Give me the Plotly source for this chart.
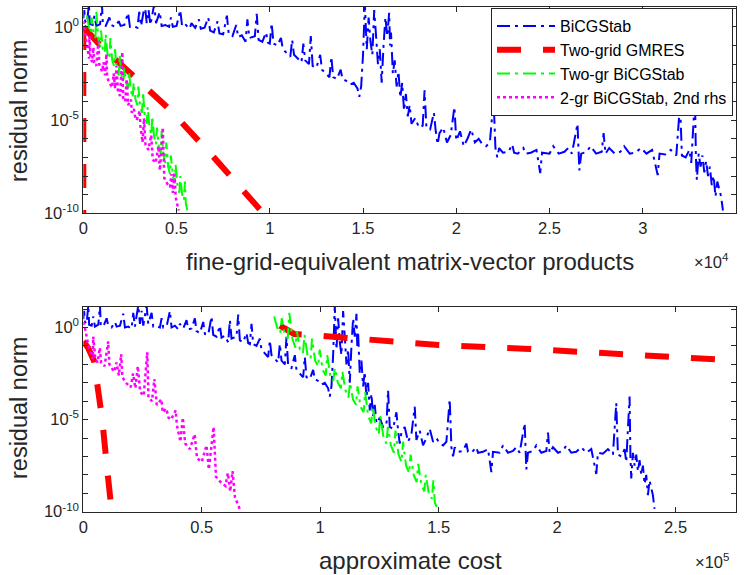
import plotly.graph_objects as go

# ---------------- data ----------------
# BiCGStab: x in units of 1e4 fine-grid matvecs, residual exponent (log10)
blue_x_e4 = [
    0.000, 0.005, 0.010, 0.020, 0.030, 0.035, 0.050, 0.060, 0.070, 0.090,
    0.100, 0.105, 0.120, 0.140, 0.150, 0.170, 0.190, 0.200, 0.220, 0.240,
    0.250, 0.270, 0.290, 0.300, 0.310, 0.330, 0.340, 0.350, 0.360, 0.380,
    0.390, 0.410, 0.420, 0.440, 0.460, 0.470, 0.480, 0.500, 0.520, 0.530,
    0.550, 0.570, 0.580, 0.600, 0.620, 0.630, 0.650, 0.670, 0.680, 0.700,
    0.720, 0.730, 0.750, 0.770, 0.780, 0.800, 0.820, 0.830, 0.850, 0.870,
    0.880, 0.890, 0.920, 0.930, 0.940, 0.960, 0.980, 0.990, 1.000, 1.010,
    1.020, 1.040, 1.060, 1.070, 1.090, 1.110, 1.120, 1.130, 1.150, 1.170,
    1.180, 1.190, 1.210, 1.220, 1.230, 1.250, 1.270, 1.280, 1.300, 1.320,
    1.330, 1.340, 1.360, 1.380, 1.390, 1.410, 1.430, 1.450, 1.470, 1.480,
    1.490, 1.500, 1.510, 1.515, 1.520, 1.530, 1.540, 1.550, 1.560, 1.570,
    1.580, 1.590, 1.600, 1.610, 1.620, 1.630, 1.640, 1.645, 1.650, 1.660,
    1.670, 1.680, 1.690, 1.700, 1.710, 1.720, 1.730, 1.740, 1.750, 1.760,
    1.780, 1.800, 1.820, 1.830, 1.840, 1.860, 1.880, 1.890, 1.900, 1.910,
    1.930, 1.950, 1.970, 1.990, 2.000, 2.020, 2.040, 2.060, 2.080, 2.100,
    2.120, 2.140, 2.160, 2.180, 2.200, 2.210, 2.220, 2.230, 2.250, 2.280,
    2.300, 2.310, 2.330, 2.360, 2.370, 2.400, 2.430, 2.450, 2.460, 2.500,
    2.520, 2.550, 2.580, 2.600, 2.620, 2.650, 2.660, 2.670, 2.700, 2.720,
    2.750, 2.780, 2.790, 2.800, 2.820, 2.850, 2.880, 2.900, 2.930, 2.960,
    2.990, 3.020, 3.050, 3.080, 3.090, 3.120, 3.150, 3.180, 3.200, 3.210,
    3.230, 3.250, 3.260, 3.270, 3.280, 3.285, 3.290, 3.300, 3.310, 3.320,
    3.330, 3.340, 3.350, 3.360, 3.370, 3.380, 3.390, 3.400, 3.410, 3.420,
    3.430]
blue_exp = [
    0.45, 0.9, 0.3, 0.2, 1.2, 0.15, 0.1, 0.6, 0.05, 0.15,
    1.2, 0.1, 0.05, 0.5, 0.1, 0.0, 0.3, 0.05, 0.1, 0.75,
    0.0, 0.05, -0.05, 0.8, 0.05, 1.2, 0.2, 0.9, 0.1, 1.2,
    0.2, 0.8, 0.05, 0.1, 0.0, 0.5, 0.0, 0.05, 0.9, 0.0,
    0.1, -0.1, 0.2, -0.05, 0.4, -0.1, -0.05, 0.5, -0.2, -0.3,
    0.3, -0.35, -0.4, 0.6, -0.4, -0.5, 0.1, -0.55, -0.45, -0.8,
    0.4, -0.6, -0.5, 0.7, -0.7, -0.8, -0.3, -0.85, -0.9, 0.2,
    -0.9, -1.0, -0.6, -1.2, -1.4, -1.6, -0.7, -1.5, -1.7, -1.9,
    -0.9, -1.8, -2.0, -0.5, -2.1, -2.2, -1.5, -2.3, -2.5, -2.7,
    -1.6, -2.7, -2.8, -2.3, -2.8, -2.9, -3.1, -3.0, -3.3, -3.75,
    -3.2, -1.5, 1.2, -0.5, -1.2, 0.5, -0.8, -1.5, 0.9, -0.5,
    -2.0, -1.2, -3.0, -1.0, 0.5, -0.5, 0.75, -1.0, -0.3, -2.5,
    -1.8, -3.2, -2.4, -3.8, -3.0, -4.5, -3.6, -4.8, -4.2, -5.2,
    -4.9, -5.4, -5.3, -3.4, -5.4, -5.5, -4.6, -5.6, -6.3, -5.7,
    -5.4, -6.2, -5.8, -4.3, -6.1, -5.6, -6.4, -6.0, -5.5, -6.2,
    -6.0, -6.3, -6.4, -6.2, -3.9, -6.5, -7.0, -6.5, -6.75, -6.7,
    -6.3, -6.75, -6.8, -6.5, -6.8, -6.75, -6.6, -7.85, -6.75, -6.8,
    -6.4, -6.8, -6.7, -6.5, -6.8, -5.2, -7.7, -6.8, -6.7, -6.4,
    -6.8, -6.7, -5.7, -6.8, -6.5, -6.8, -6.7, -6.4, -6.8, -6.75,
    -6.5, -6.8, -6.6, -7.95, -6.8, -6.85, -6.6, -6.9, -4.1, -6.9,
    -7.0, -6.6, -7.3, -5.5, -3.75, -7.0, -8.2, -6.8, -7.5, -6.9,
    -7.8, -7.2, -8.0, -7.5, -8.5, -8.0, -9.1, -8.3, -8.7, -9.1,
    -9.85]
blue_cost_per_mv = 7.03          # cost of one fine-grid matvec (bottom panel)

# Two-grid GMRES
red_top_x_e4 = [0.0, 0.0, None, 0.0, 0.1, 0.2, 0.3, 0.47, 0.7, 0.965]
red_top_exp = [0.05, -10.0, None, 0.0, -1.1, -2.0, -2.95, -4.5, -7.0, -10.0]
red_bot_x_e5 = [0.0, 0.02, 0.045, 0.06, 0.08, 0.10, 0.12, None,
                0.83, 0.89, 1.0, 1.2, 1.5, 1.86, 2.25, 2.8]
red_bot_exp = [-0.75, -1.1, -1.8, -3.0, -5.0, -7.6, -10.0, None,
               0.1, -0.35, -0.45, -0.65, -0.95, -1.15, -1.45, -1.82]

# Two-grid BiCGStab (x in 1e4 fine-grid-equivalent matvecs)
green_x_e4 = [
    0.02, 0.03, 0.04, 0.045, 0.055, 0.065, 0.07, 0.08, 0.09, 0.095,
    0.105, 0.115, 0.12, 0.13, 0.14, 0.145, 0.155, 0.165, 0.17, 0.18,
    0.19, 0.195, 0.205, 0.215, 0.22, 0.23, 0.24, 0.245, 0.255, 0.265,
    0.27, 0.28, 0.29, 0.295, 0.305, 0.315, 0.32, 0.33, 0.34, 0.345,
    0.355, 0.365, 0.37, 0.38, 0.39, 0.395, 0.405, 0.415, 0.42, 0.43,
    0.44, 0.445, 0.455, 0.465, 0.47, 0.48, 0.49, 0.495, 0.505, 0.515,
    0.52, 0.53, 0.54, 0.545, 0.55, 0.56]
green_exp = [
    0.6, 0.0, -0.3, 0.5, -0.4, -0.6, 0.8, -0.6, -1.1, -0.2,
    -1.2, -1.4, -0.4, -1.5, -1.7, -0.6, -1.8, -2.1, -1.2, -2.3,
    -2.6, -1.5, -2.6, -2.9, -2.2, -3.0, -3.3, -2.4, -3.4, -3.8,
    -3.0, -3.9, -4.2, -3.2, -4.3, -4.6, -3.5, -4.8, -5.2, -4.3,
    -5.4, -5.8, -4.8, -5.9, -6.3, -5.4, -6.4, -6.8, -5.6, -6.9,
    -7.3, -6.2, -7.5, -7.9, -6.9, -8.0, -8.4, -7.4, -8.5, -8.9,
    -8.0, -9.0, -9.3, -8.3, -9.5, -9.9]
green_setup_cost = 78000.0       # cost offset in the bottom panel
green_cost_per_mv = 12.8

# 2-grid BiCGStab, 2nd rhs (x in units of 1e5 cost)
mag_cost_e5 = [
    0.0, 0.01, 0.02, 0.03, 0.04, 0.042, 0.05, 0.06, 0.07, 0.075,
    0.09, 0.105, 0.11, 0.13, 0.14, 0.15, 0.16, 0.165, 0.18, 0.2,
    0.21, 0.22, 0.23, 0.24, 0.255, 0.27, 0.275, 0.29, 0.3, 0.31,
    0.33, 0.335, 0.35, 0.36, 0.37, 0.39, 0.395, 0.41, 0.42, 0.43,
    0.45, 0.47, 0.48, 0.5, 0.52, 0.53, 0.55, 0.56, 0.58, 0.6,
    0.61, 0.62, 0.63, 0.64, 0.66]
mag_exp = [
    0.3, -0.2, -0.9, -1.4, -1.7, -0.5, -1.6, -1.9, -1.1, -1.9,
    -2.1, -0.75, -2.0, -2.4, -1.9, -2.6, -1.45, -2.7, -3.0, -3.25,
    -2.5, -3.3, -2.1, -3.5, -3.7, -1.35, -3.8, -4.0, -2.8, -4.2,
    -3.9, -4.6, -4.4, -4.9, -5.0, -4.5, -5.3, -6.2, -4.9, -6.3,
    -6.6, -5.8, -7.1, -7.3, -6.4, -7.7, -5.4, -8.1, -8.4, -8.6,
    -7.9, -8.9, -7.8, -9.2, -9.85]
mag_cost_per_mv = 12.9

series_names = ["BiCGStab", "Two-grid GMRES", "Two-gr BiCGStab",
                "2-gr BiCGStab, 2nd rhs"]
top_xticks = ["0", "0.5", "1", "1.5", "2", "2.5", "3", "3.5"]
bot_xticks = ["0", "0.5", "1", "1.5", "2", "2.5"]
y_tick_exps = [0, -5, -10]


# ---------------- helpers ----------------
def val(exps):
    return [None if e is None else 10 ** e for e in exps]


def scale(xs, f, off=0.0):
    return [None if x is None else x * f + off for x in xs]


FONT = "Liberation Sans, Arial, sans-serif"
INK = "#262626"
BLUE, RED, GREEN, MAG = "#0000FF", "#FF0000", "#00FF00", "#FF00FF"
DASHDOT = "13px,5px,3px,5px"
REDDASH = "24px,22px"
DOT = "3px,3px"

fig = go.Figure()

# ---- top panel ----
blue_mv = scale(blue_x_e4, 1e4)
green_mv = scale(green_x_e4, 1e4)
mag_mv = scale(mag_cost_e5, 1e5 / mag_cost_per_mv)

fig.add_trace(go.Scatter(x=blue_mv, y=val(blue_exp), mode="lines", name=series_names[0],
                         line=dict(color=BLUE, width=2, dash=DASHDOT), xaxis="x", yaxis="y"))
fig.add_trace(go.Scatter(x=scale(red_top_x_e4, 1e4), y=val(red_top_exp), mode="lines",
                         name=series_names[1],
                         line=dict(color=RED, width=6, dash=REDDASH), xaxis="x", yaxis="y"))
fig.add_trace(go.Scatter(x=green_mv, y=val(green_exp), mode="lines", name=series_names[2],
                         line=dict(color=GREEN, width=2, dash=DASHDOT), xaxis="x", yaxis="y"))
fig.add_trace(go.Scatter(x=mag_mv, y=val(mag_exp), mode="lines", name=series_names[3],
                         line=dict(color=MAG, width=2.5, dash=DOT), xaxis="x", yaxis="y"))

# ---- bottom panel ----
fig.add_trace(go.Scatter(x=scale(blue_mv, blue_cost_per_mv), y=val(blue_exp), mode="lines",
                         showlegend=False,
                         line=dict(color=BLUE, width=2, dash=DASHDOT), xaxis="x2", yaxis="y2"))
fig.add_trace(go.Scatter(x=scale(red_bot_x_e5, 1e5), y=val(red_bot_exp), mode="lines",
                         showlegend=False,
                         line=dict(color=RED, width=6, dash=REDDASH), xaxis="x2", yaxis="y2"))
fig.add_trace(go.Scatter(x=scale(green_mv, green_cost_per_mv, green_setup_cost), y=val(green_exp),
                         mode="lines", showlegend=False,
                         line=dict(color=GREEN, width=2, dash=DASHDOT), xaxis="x2", yaxis="y2"))
fig.add_trace(go.Scatter(x=scale(mag_cost_e5, 1e5), y=val(mag_exp), mode="lines",
                         showlegend=False,
                         line=dict(color=MAG, width=2.5, dash=DOT), xaxis="x2", yaxis="y2"))

major_vals = [10 ** k for k in y_tick_exps]
major_text = [f"10<sup>{k}</sup>" for k in y_tick_exps]
minor_vals = [10 ** k for k in range(-10, 2)]

common_x = dict(showline=True, linecolor=INK, linewidth=1, mirror="ticks", ticks="inside",
                ticklen=5, tickcolor=INK, showgrid=False, zeroline=False, automargin=False,
                tickfont=dict(family=FONT, size=16.5, color=INK))
common_y = dict(type="log", showline=True, linecolor=INK, linewidth=1, mirror="ticks",
                ticks="inside", ticklen=5, tickcolor=INK, showgrid=False, zeroline=False,
                automargin=False, tickmode="array", tickvals=major_vals, ticktext=major_text,
                minor=dict(tickmode="array", tickvals=minor_vals, ticks="inside", ticklen=5,
                           tickcolor=INK, showgrid=False),
                tickfont=dict(family=FONT, size=16.5, color=INK))

XD = [83.3 / 747, 736 / 747]
fig.update_layout(
    width=747, height=575, margin=dict(l=0, r=0, t=0, b=0),
    paper_bgcolor="white", plot_bgcolor="white",
    xaxis=dict(domain=XD, anchor="y", range=[0, 35000],
               tickvals=[i * 5000 for i in range(8)], ticktext=top_xticks, **common_x),
    yaxis=dict(domain=[1 - 213.3 / 575, 1 - 6.7 / 575], anchor="x", range=[-10, 1.08],
               **common_y),
    xaxis2=dict(domain=XD, anchor="y2", range=[0, 275500],
                tickvals=[i * 50000 for i in range(6)], ticktext=bot_xticks, **common_x),
    yaxis2=dict(domain=[1 - 511.7 / 575, 1 - 306.7 / 575], anchor="x2", range=[-10, 1.13],
                **common_y),
    legend=dict(x=733 / 747, xanchor="right", y=1 - 8 / 575, yanchor="top",
                bgcolor="white", bordercolor=INK, borderwidth=1,
                font=dict(family=FONT, size=16, color="black"), itemwidth=58,
                tracegroupgap=0),
    showlegend=True,
)

ann = [
    dict(text="fine-grid-equivalent matrix-vector products", x=409.5 / 747, y=1 - 261 / 575,
         font=dict(size=24)),
    dict(text="approximate cost", x=410 / 747, y=1 - 560 / 575, font=dict(size=24)),
    dict(text="×10<sup>4</sup>", x=731 / 747, y=1 - 261 / 575, xanchor="right",
         font=dict(size=16.5)),
    dict(text="×10<sup>5</sup>", x=731 / 747, y=1 - 561 / 575, xanchor="right",
         font=dict(size=16.5)),
    dict(text="residual norm", x=19 / 747, y=1 - 111 / 575, textangle=-90, font=dict(size=23.5)),
    dict(text="residual norm", x=19 / 747, y=1 - 408 / 575, textangle=-90, font=dict(size=23.5)),
]
for a in ann:
    a.setdefault("xanchor", "center")
    a["yanchor"] = "middle"
    a["xref"] = "paper"
    a["yref"] = "paper"
    a["showarrow"] = False
    a["font"] = dict(family=FONT, color=INK, **a["font"])
    fig.add_annotation(**a)

fig.write_html("out.html")
